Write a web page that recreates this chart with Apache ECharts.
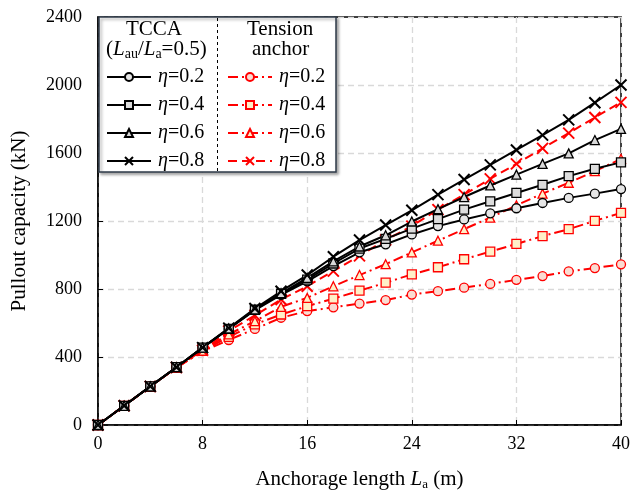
<!DOCTYPE html>
<html><head><meta charset="utf-8">
<script src="https://cdn.jsdelivr.net/npm/echarts@6/dist/echarts.min.js"></script>
<style>html,body{margin:0;padding:0;background:#fff}#c{width:633px;height:496px}</style>
</head><body><div id="c"></div>
<script>
const xs = [0,2,4,6,8,10,12,14,16,18,20,22,24,26,28,30,32,34,36,38,40];
const tcca02 = [0,113,227,340,455,565,676,765,845,935,1016,1063,1121,1170,1209,1245,1275,1306,1336,1361,1388];
const tcca04 = [0,113,227,340,455,566,678,772,855,950,1038,1095,1155,1211,1267,1316,1365,1413,1464,1507,1545];
const tcca06 = [0,113,227,340,455,568,680,775,865,962,1050,1116,1197,1270,1341,1409,1473,1536,1598,1676,1742];
const tcca08 = [0,113,227,340,455,570,685,787,882,990,1088,1176,1263,1355,1444,1530,1618,1705,1795,1896,2000];
const ten02 = [0,113,226,338,434,500,565,631,670,692,714,735,767,787,808,830,854,876,904,923,945];
const ten04 = [0,113,226,338,436,518,592,650,699,743,790,837,886,928,975,1020,1065,1111,1152,1201,1248];
const ten06 = [0,113,226,338,438,533,611,695,748,816,882,946,1015,1084,1152,1220,1292,1361,1425,1493,1565];
const ten08 = [0,113,226,338,440,553,645,738,816,905,995,1088,1170,1267,1355,1448,1536,1627,1717,1809,1898];
const xTicks = [0,8,16,24,32,40];
const yTicks = [0,400,800,1200,1600,2000,2400];

const FONT = 'Liberation Serif';
const XSYM = 'path://M0,0L10,10M10,0L0,10';
function pairs(arr){ return xs.map((x,i)=>[x,arr[i]]); }
function mk(name, data, color, symbol, fill, dash, size){
  return {
    name, type:'line', data: pairs(data), symbol, symbolSize: size,
    lineStyle:{color, width:2, type: dash},
    itemStyle:{color: fill, borderColor: color, borderWidth: symbol===XSYM?2:1.3},
    emphasis:{disabled:true}, z: color==='#000000'?3:2
  };
}
const BK='#000000', RD='#ff0000';
const series = [
  mk('T0.2', tcca02, BK, 'circle', '#e6e6e6', 'solid', 9),
  mk('T0.4', tcca04, BK, 'rect', '#dcdcdc', 'solid', 9),
  mk('T0.6', tcca06, BK, 'triangle', '#d8d8d8', 'solid', 9),
  mk('T0.8', tcca08, BK, XSYM, 'rgba(0,0,0,0)', 'solid', 11),
  mk('A0.2', ten02, RD, 'circle', '#fadcd2', [10,4,2,4], 9),
  mk('A0.4', ten04, RD, 'rect', '#fff0c8', [10,4,2,4], 9),
  mk('A0.6', ten06, RD, 'triangle', '#fff0c8', [10,4,2,4], 9),
  mk('A0.8', ten08, RD, XSYM, 'rgba(0,0,0,0)', [9,5], 11)
];
const legendText = {fontFamily: FONT, fontSize: 20, color:'#000', padding:[0,0,0,2], rich:{i:{fontFamily:FONT,fontSize:20,fontStyle:'italic'}}};
function fmt(name){ return '{i|η}=' + name.slice(1); }
const chart = echarts.init(document.getElementById('c'));
chart.setOption({
  animation:false,
  grid:{left:98,right:11,top:17,bottom:68,show:true,borderColor:'#000',borderWidth:1.5,backgroundColor:'transparent'},
  xAxis:{type:'value',min:0,max:40,interval:8,
    axisLine:{lineStyle:{color:'#000',width:1.5}},
    axisTick:{inside:true,length:5,lineStyle:{color:'#000'}},
    splitLine:{lineStyle:{color:'#d9d9d9',type:[6,4],width:1.3}},
    axisLabel:{fontFamily:FONT,fontSize:18,color:'#000',margin:10, formatter:v=>xTicks.includes(v)?String(v):''},
    name:'{n|Anchorage length }{i|L}{s|a}{n| (m)}', nameLocation:'middle', nameGap:43,
    nameTextStyle:{rich:{n:{fontFamily:FONT,fontSize:21,color:'#000'},i:{fontFamily:FONT,fontSize:21,fontStyle:'italic',color:'#000'},s:{fontFamily:FONT,fontSize:13,color:'#000',padding:[10,0,0,0]}}}
  },
  yAxis:{type:'value',min:0,max:2400,interval:400,
    axisLine:{lineStyle:{color:'#000',width:1.5}},
    axisTick:{inside:true,length:5,lineStyle:{color:'#000'}},
    splitLine:{lineStyle:{color:'#d9d9d9',type:[6,4],width:1.3}},
    axisLabel:{fontFamily:FONT,fontSize:18,color:'#000',margin:16, formatter:v=>yTicks.includes(v)?String(v):''},
    name:'Pullout capacity (kN)', nameLocation:'middle', nameGap:68,
    nameTextStyle:{fontFamily:FONT,fontSize:21,color:'#000'}
  },
  legend:[
    {data:['T0.2','T0.4','T0.6','T0.8'], orient:'vertical', left:106, top:67, itemWidth:44, itemHeight:10, itemGap:8, padding:0, formatter:fmt, textStyle:legendText, selectedMode:false, z:10},
    {data:['A0.2','A0.4','A0.6','A0.8'], orient:'vertical', left:227, top:67, itemWidth:44, itemHeight:10, itemGap:8, padding:0, formatter:fmt, textStyle:legendText, selectedMode:false, z:10}
  ],
  graphic:[
    {type:'rect', z:8, shape:{x:99,y:17,width:237,height:155}, style:{fill:'#fff',stroke:'#2f3b4a',lineWidth:1.5,shadowBlur:3,shadowOffsetX:2,shadowOffsetY:2,shadowColor:'rgba(0,0,0,0.35)'}},
    {type:'line', z:9, shape:{x1:217.5,y1:18,x2:217.5,y2:171}, style:{stroke:'#000',lineWidth:1,lineDash:[3,3]}},
    {type:'text', z:9, left:126, top:19, style:{text:'TCCA', font:'21px "Liberation Serif"', fill:'#000'}},
    {type:'text', z:9, left:106, top:39, style:{text:'({i|L}{s|au}/{i|L}{s|a}=0.5)', font:'21px "Liberation Serif"', fill:'#000',
      rich:{i:{fontFamily:FONT,fontSize:21,fontStyle:'italic'},s:{fontFamily:FONT,fontSize:14,padding:[9,0,0,0]}}}},
    {type:'text', z:9, left:247, top:19, style:{text:'Tension', font:'21px "Liberation Serif"', fill:'#000'}},
    {type:'text', z:9, left:252, top:39, style:{text:'anchor', font:'21px "Liberation Serif"', fill:'#000'}}
  ],
  series
});
</script></body></html>
